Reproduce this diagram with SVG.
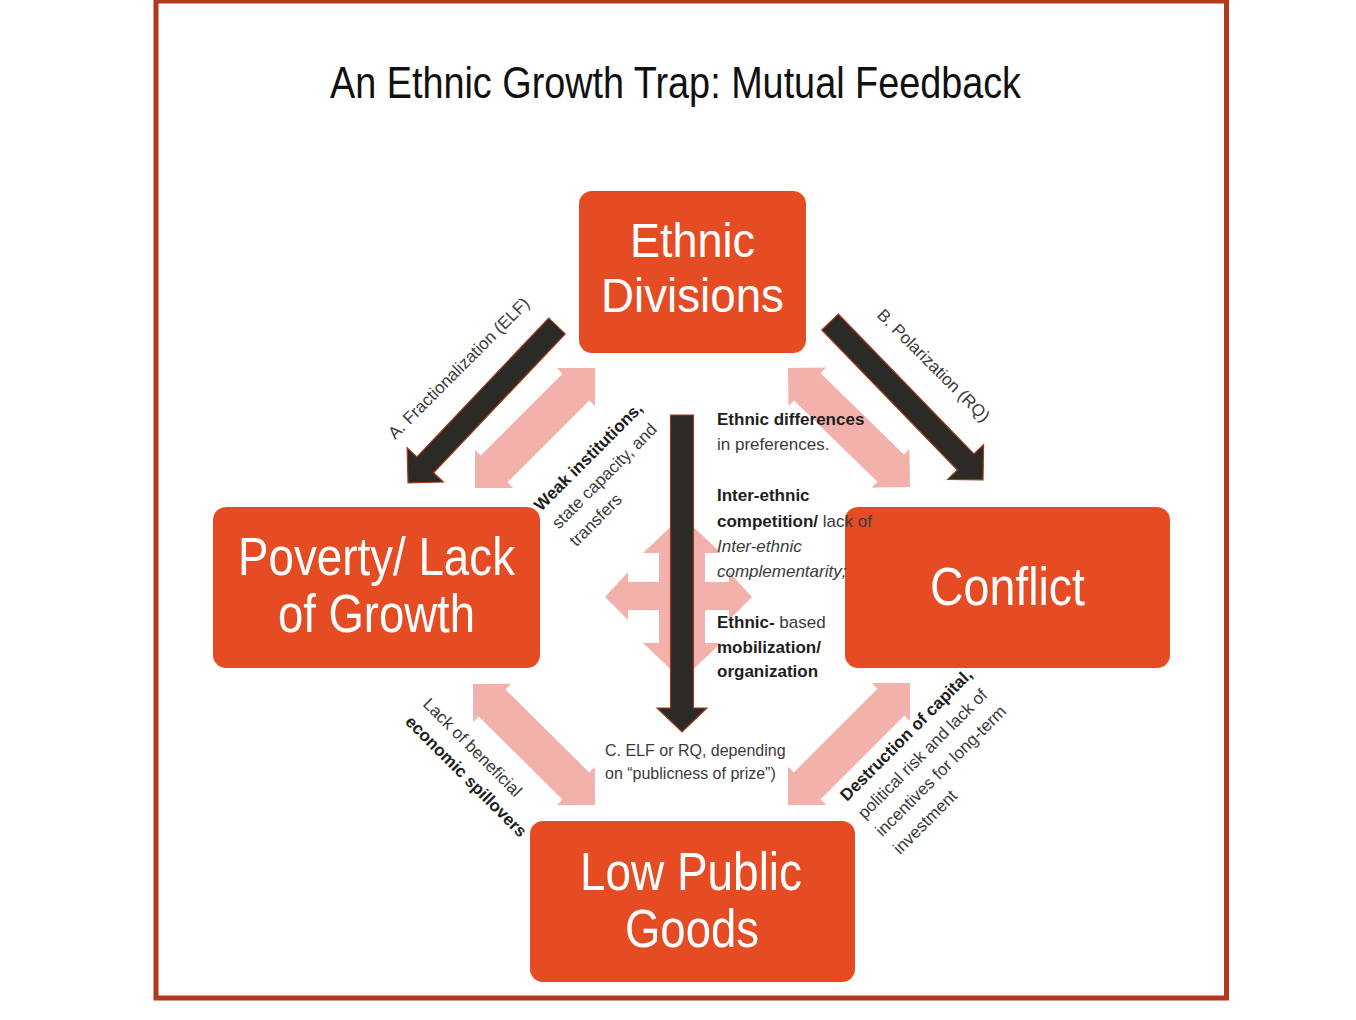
<svg xmlns="http://www.w3.org/2000/svg" width="1356" height="1020" viewBox="0 0 1356 1020">
<style>
.box{fill:#e64c23}
.bt{font-family:"Liberation Sans",Arial,sans-serif;fill:#ffffff}
.ann{font-family:"Liberation Sans",Arial,sans-serif;font-size:17px;fill:#3a3a3a}
.sm{font-size:16px}
.b{font-weight:bold;fill:#1e1e1e}
.i{font-style:italic}
.dark{fill:#2b2a26;stroke:#a33b1f;stroke-width:1.2}
.pink{fill:#f2b1ab}
</style>
<rect x="0" y="0" width="1356" height="1020" fill="#ffffff"/>
<rect x="156" y="1" width="1070.5" height="997" fill="none" stroke="#b3391c" stroke-width="5"/>
<text id="title" x="330" y="98" font-family="Liberation Sans, Arial, sans-serif" font-size="45" fill="#111" textLength="691" lengthAdjust="spacingAndGlyphs">An Ethnic Growth Trap: Mutual Feedback</text>

<g id="connectors">
  <polygon class="pink" transform="translate(475,488) rotate(-45)" points="0,0 27,-27 27,-19 142.7,-19 142.7,-27 169.7,0 142.7,27 142.7,19 27,19 27,27"/>
  <polygon class="pink" transform="translate(473,684) rotate(44.76)" points="0,0 27,-27 27,-19 144.8,-19 144.8,-27 171.8,0 144.8,27 144.8,19 27,19 27,27"/>
  <polygon class="pink" transform="translate(788,368) rotate(44.3)" points="0,0 27,-27 27,-19 143.4,-19 143.4,-27 170.4,0 143.4,27 143.4,19 27,19 27,27"/>
  <polygon class="pink" transform="translate(910,683) rotate(135)" points="0,0 27,-27 27,-19 145.5,-19 145.5,-27 172.5,0 145.5,27 145.5,19 27,19 27,27"/>
  <polygon class="pink" points="682,516 721,553 705,553 705,582 729,582 729,572 752,597 729,620 729,610 705,610 705,643 721,643 682,680 643,643 659,643 659,610 628,610 628,620 605,597 628,572 628,582 659,582 659,553 643,553"/>
  <polygon class="dark" transform="translate(557,326) rotate(133.5)" points="0,-11.5 191.4,-11.5 191.4,-25 216.4,0 191.4,25 191.4,11.5 0,11.5"/>
  <polygon class="dark" transform="translate(830,322) rotate(45.9)" points="0,-11.5 194.9,-11.5 194.9,-25 219.9,0 194.9,25 194.9,11.5 0,11.5"/>
  <polygon class="dark" points="670.5,415 693.5,415 693.5,708 707,708 682,732 657,708 670.5,708"/>
</g>

<g id="node-ethnic">
  <rect class="box" x="579" y="191" width="227" height="162" rx="13"/>
  <text class="bt" x="630" y="257" font-size="49" textLength="125" lengthAdjust="spacingAndGlyphs">Ethnic</text>
  <text class="bt" x="601" y="312" font-size="49" textLength="183" lengthAdjust="spacingAndGlyphs">Divisions</text>
</g>
<g id="node-poverty">
  <rect class="box" x="213" y="507" width="327" height="161" rx="13"/>
  <text class="bt" x="238" y="575" font-size="53" textLength="277" lengthAdjust="spacingAndGlyphs">Poverty/ Lack</text>
  <text class="bt" x="278" y="632" font-size="53" textLength="197" lengthAdjust="spacingAndGlyphs">of Growth</text>
</g>
<g id="node-conflict">
  <rect class="box" x="845" y="507" width="325" height="161" rx="13"/>
  <text class="bt" x="930" y="605" font-size="53" textLength="155" lengthAdjust="spacingAndGlyphs">Conflict</text>
</g>
<g id="node-lpg">
  <rect class="box" x="530" y="821" width="325" height="161" rx="13"/>
  <text class="bt" x="580" y="890" font-size="54" textLength="222" lengthAdjust="spacingAndGlyphs">Low Public</text>
  <text class="bt" x="625" y="947" font-size="54" textLength="134" lengthAdjust="spacingAndGlyphs">Goods</text>
</g>

<g id="labels">
  <text class="ann" transform="translate(395,440) rotate(-45)">A. Fractionalization (ELF)</text>
  <text class="ann" transform="translate(876,316) rotate(45)">B. Polarization (RQ)</text>
  <text class="ann" transform="translate(541,512) rotate(-45)"><tspan class="b" x="0" y="0">Weak institutions,</tspan><tspan x="0" y="25">state capacity, and</tspan><tspan x="0" y="50">transfers</tspan></text>
  <text class="ann" transform="translate(422,705) rotate(45)"><tspan x="0" y="0">Lack of beneficial</tspan><tspan class="b" x="0" y="25">economic spillovers</tspan></text>
  <text class="ann" transform="translate(847,802) rotate(-45)"><tspan class="b" x="0" y="0">Destruction of capital,</tspan><tspan x="0" y="25">political risk and lack of</tspan><tspan x="0" y="50">incentives for long-term</tspan><tspan x="0" y="75">investment</tspan></text>
  <text class="ann" x="717" y="425"><tspan class="b">Ethnic differences</tspan></text>
  <text class="ann" x="717" y="450">in preferences.</text>
  <text class="ann b" x="717" y="501">Inter-ethnic</text>
  <text class="ann" x="717" y="527"><tspan class="b">competition/</tspan> lack of</text>
  <text class="ann i" x="717" y="552">Inter-ethnic</text>
  <text class="ann i" x="717" y="577">complementarity;</text>
  <text class="ann" x="717" y="628"><tspan class="b">Ethnic-</tspan> based</text>
  <text class="ann b" x="717" y="653">mobilization/</text>
  <text class="ann b" x="717" y="677">organization</text>
  <text class="ann sm" x="605" y="756">C. ELF or RQ, depending</text>
  <text class="ann sm" x="605" y="779">on “publicness of prize”)</text>
</g>
</svg>
